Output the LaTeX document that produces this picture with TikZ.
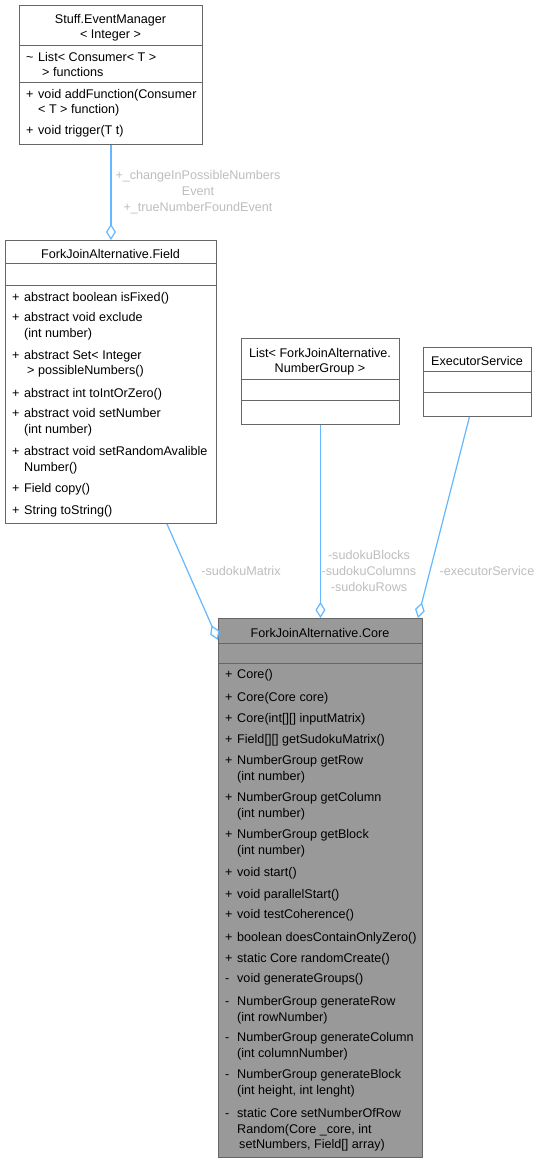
\documentclass[tikz,border=0pt]{standalone}
\usepackage{fontspec}
\setmainfont{Liberation Sans}
\usetikzlibrary{arrows.meta,calc}

\definecolor{edgeblue}{HTML}{63B8FF}
\definecolor{boxline}{HTML}{666666}
\definecolor{labelgrey}{HTML}{BEBEBE}
\definecolor{corefill}{HTML}{999999}

\newcommand{\vis}[1]{\makebox[12pt][l]{#1}}

\begin{document}
\begin{tikzpicture}[x=1pt, y=-1pt,
  every node/.style={font=\fontsize{12.6}{16}\selectfont},
  classbox/.style={draw=boxline, line width=0.9pt, anchor=north west, inner sep=0pt},
  member/.style={anchor=base west, inner sep=0pt},
  title/.style={anchor=base, inner sep=0pt},
  edgelabel/.style={text=labelgrey, align=center, inner sep=0pt},
  assoc/.style={draw=edgeblue, line width=1.2pt, -{Diamond[open, length=16pt, width=10pt, line width=1.2pt]}}]

\fill[white] (0,0) rectangle (541,1163);
\useasboundingbox (0,0) rectangle (541,1163);

% Draw class boxes
\node[classbox, minimum width=183, minimum height=139] (evm) at (19,5) {};
\node[classbox, minimum width=211, minimum height=283] (field) at (5,240) {};
\node[classbox, minimum width=158, minimum height=86] (lst) at (241,338) {};
\node[classbox, minimum width=108, minimum height=69] (exs) at (423,347) {};
\node[classbox, fill=corefill, minimum width=204, minimum height=539] (core) at (218,618) {};

% Draw compartment lines
\foreach \cls/\y in {evm/45, evm/82, field/263, field/285, lst/379, lst/400, exs/371, exs/392, core/643, core/663} {
    \draw[boxline, line width=0.9pt] (\cls.west |- 0,\y) -- (\cls.east |- 0,\y);
}

% Class names
\node[title] (evmname) at (110.5,23.5) {Stuff.EventManager};
\node[title] (evmarg) at (110.5,38.5) {< Integer >};
\node[title] (fieldname) at (110.5,258.5) {ForkJoinAlternative.Field};
\node[title] (lstname) at (320,357.5) {List< ForkJoinAlternative.};
\node[title] (lstarg) at (320,372.5) {NumberGroup >};
\node[title] (exsname) at (477,365.5) {ExecutorService};
\node[title] (corename) at (320,637.5) {ForkJoinAlternative.Core};

% Members of Stuff.EventManager
\foreach \y/\v/\t [count=\i] in {57/\textasciitilde/{List< Consumer< T >}, 72//{\hspace{4pt}> functions},
    94/+/{void addFunction(Consumer}, 109//{< T > function)}, 130/+/{void trigger(T t)}} {
    \node[member] (evm\i) at (26,\y+4.5) {\vis{\v}\t};
}

% Members of ForkJoinAlternative.Field
\foreach \y/\v/\t [count=\i] in {297/+/{abstract boolean isFixed()}, 317/+/{abstract void exclude},
    333//{(int number)}, 355/+/{abstract Set< Integer}, 370//{\hspace{3pt}> possibleNumbers()},
    393/+/{abstract int toIntOrZero()}, 413/+/{abstract void setNumber}, 429//{(int number)},
    451/+/{abstract void setRandomAvalible}, 467//{Number()}, 488/+/{Field copy()}, 510/+/{String toString()}} {
    \node[member] (field\i) at (12,\y+4.5) {\vis{\v}\t};
}

% Members of ForkJoinAlternative.Core
\foreach \y/\v/\t [count=\i] in {674/+/{Core()}, 697/+/{Core(Core core)}, 718/+/{Core(int[][] inputMatrix)},
    739/+/{Field[][] getSudokuMatrix()}, 760/+/{NumberGroup getRow}, 776//{(int number)},
    797/+/{NumberGroup getColumn}, 813//{(int number)}, 834/+/{NumberGroup getBlock}, 850//{(int number)},
    872/+/{void start()}, 894/+/{void parallelStart()}, 914/+/{void testCoherence()},
    937/+/{boolean doesContainOnlyZero()}, 958/+/{static Core randomCreate()}, 978/-/{void generateGroups()},
    1001/-/{NumberGroup generateRow}, 1017//{(int rowNumber)}, 1037/-/{NumberGroup generateColumn},
    1053//{(int columnNumber)}, 1074/-/{NumberGroup generateBlock}, 1090//{(int height, int lenght)},
    1113/-/{static Core setNumberOfRow}, 1129//{Random(Core \_core, int}, 1144//{\hspace{2pt}setNumbers, Field[] array)}} {
    \node[member] (core\i) at (225,\y+4.5) {\vis{\v}\t};
}

% Draw associations
\draw[assoc] (evm.south) -- (field.north);
\draw[assoc] ($(field.south)+(56,0)$) -- ($(core.north west)+(0,22)$);
\draw[assoc] (lst.south) -- (core.north);
\draw[assoc] ($(exs.south)+(-8,0)$) -- ($(core.north east)+(-5,0)$);

% Edge labels
\node[edgelabel] (evmlabel) at (198,192) {+\_changeInPossibleNumbers\\Event\\+\_trueNumberFoundEvent};
\node[edgelabel] (fieldlabel) at (241,571) {-sudokuMatrix};
\node[edgelabel] (lstlabel) at (369,571) {-sudokuBlocks\\-sudokuColumns\\-sudokuRows};
\node[edgelabel] (exslabel) at (487,571) {-executorService};

\end{tikzpicture}
\end{document}
